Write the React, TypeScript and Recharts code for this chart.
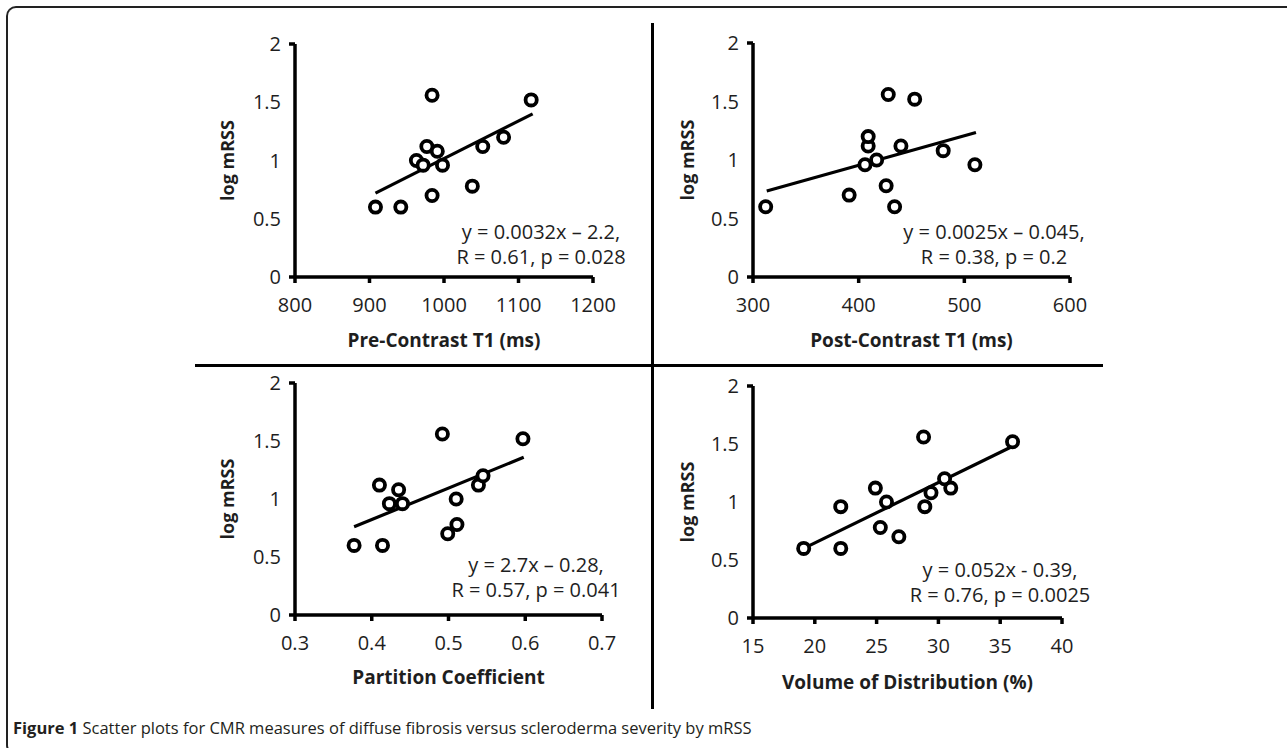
import { ScatterChart, Scatter, XAxis, YAxis, ReferenceLine, Label } from "recharts";

const FONT = "'Open Sans', sans-serif";
const INK = "#1e1e1e";

const Y_TICKS = [0, 0.5, 1, 1.5, 2];

// Pre-contrast T1 (ms) vs log mRSS
const PRE_T1_X = [908, 942, 984, 1117, 977, 991, 963, 972, 998, 1052, 1080, 1038, 984];
const PRE_T1_Y = [0.6, 0.6, 1.56, 1.52, 1.12, 1.08, 1.0, 0.96, 0.96, 1.12, 1.2, 0.78, 0.7];
const PRE_T1_TREND = [
  { x: 908, y: 0.72 },
  { x: 1119, y: 1.4 },
];
const PRE_T1_TICKS = [800, 900, 1000, 1100, 1200];

// Post-contrast T1 (ms)
const POST_T1_X = [312, 391, 434, 426, 406, 417, 409, 409, 428, 453, 440, 480, 510];
const POST_T1_Y = [0.6, 0.7, 0.6, 0.78, 0.96, 1.0, 1.12, 1.2, 1.56, 1.52, 1.12, 1.08, 0.96];
const POST_T1_TREND = [
  { x: 313, y: 0.735 },
  { x: 511, y: 1.235 },
];
const POST_T1_TICKS = [300, 400, 500, 600];

// Partition coefficient
const PC_X = [0.377, 0.414, 0.492, 0.597, 0.41, 0.435, 0.423, 0.44, 0.51, 0.499, 0.511, 0.539, 0.545];
const PC_Y = [0.6, 0.6, 1.56, 1.52, 1.12, 1.08, 0.96, 0.96, 1.0, 0.7, 0.78, 1.12, 1.2];
const PC_TREND = [
  { x: 0.377, y: 0.76 },
  { x: 0.598, y: 1.36 },
];
const PC_TICKS = [0.3, 0.4, 0.5, 0.6, 0.7];

// Volume of distribution (%)
const VD_X = [19.1, 22.1, 22.1, 24.9, 25.8, 25.3, 26.8, 28.8, 28.9, 29.4, 30.5, 31.0, 36.0];
const VD_Y = [0.6, 0.6, 0.96, 1.12, 1.0, 0.78, 0.7, 1.56, 0.96, 1.08, 1.2, 1.12, 1.52];
const VD_TREND = [
  { x: 19.1, y: 0.6 },
  { x: 35.8, y: 1.47 },
];
const VD_TICKS = [15, 20, 25, 30, 35, 40];

const toPoints = (xs: number[], ys: number[]) => xs.map((x, i) => ({ x, y: ys[i] }));

const TICK_SIZE = 6;
const Y_TICK_MARGIN = 8;
const TICK_FONT = 20;

function Ring(props: any) {
  const { cx, cy } = props;
  return <circle cx={cx} cy={cy} r={5.6} fill="#fff" stroke="#000" strokeWidth={3.8} />;
}

// y tick labels; Excel only shows the stub at the two ends
function YTick(props: any) {
  const { x, y, payload } = props;
  const v = payload.value;
  const axisX = x + Y_TICK_MARGIN + TICK_SIZE;
  return (
    <g>
      <text x={x} y={y} dy="0.35em" textAnchor="end" fontSize={TICK_FONT} fill={INK} fontFamily={FONT}>
        {v}
      </text>
      {(v === 0 || v === 2) && (
        <line x1={axisX - TICK_SIZE} x2={axisX} y1={y} y2={y} stroke="#000" strokeWidth={3.5} />
      )}
    </g>
  );
}

type PanelProps = {
  left: number;
  top: number;
  width: number;
  height: number;
  margin: { top: number; right: number; left: number; bottom: number };
  yAxisWidth: number;
  xAxisHeight: number;
  xDomain: [number, number];
  xTicks: number[];
  xLabel: string;
  points: { x: number; y: number }[];
  trend: { x: number; y: number }[];
};

function Panel(p: PanelProps) {
  return (
    <div style={{ position: "absolute", left: p.left, top: p.top }}>
      <ScatterChart width={p.width} height={p.height} margin={p.margin}>
        <XAxis
          type="number"
          dataKey="x"
          domain={p.xDomain}
          ticks={p.xTicks}
          interval={0}
          allowDataOverflow
          height={p.xAxisHeight}
          axisLine={{ stroke: "#000", strokeWidth: 3.5 }}
          tickLine={{ stroke: "#000", strokeWidth: 3.5 }}
          tickSize={TICK_SIZE}
          tickMargin={15}
          tick={{ fontSize: TICK_FONT, fill: INK, fontFamily: FONT }}
        >
          <Label
            value={p.xLabel}
            position="insideBottom"
            offset={10}
            style={{ fontSize: 19, fontWeight: 700, fill: INK, fontFamily: FONT }}
          />
        </XAxis>
        <YAxis
          type="number"
          dataKey="y"
          domain={[0, 2]}
          ticks={Y_TICKS}
          interval={0}
          width={p.yAxisWidth}
          axisLine={{ stroke: "#000", strokeWidth: 3.5 }}
          tickLine={{ stroke: "transparent" }}
          tickSize={TICK_SIZE}
          tickMargin={Y_TICK_MARGIN}
          tick={<YTick />}
        >
          <Label
            value="log mRSS"
            angle={-90}
            position="insideLeft"
            offset={48}
            style={{ textAnchor: "middle", fontSize: 18, fontWeight: 700, fill: INK, fontFamily: FONT }}
          />
        </YAxis>
        <ReferenceLine
          segment={[p.trend[0], p.trend[1]]}
          stroke="#000"
          strokeWidth={3.2}
          ifOverflow="visible"
        />
        <Scatter data={p.points} shape={<Ring />} isAnimationActive={false} />
      </ScatterChart>
    </div>
  );
}

function Note({ cx, cy, lines }: { cx: number; cy: number; lines: string[] }) {
  return (
    <div
      style={{
        position: "absolute",
        left: cx - 200,
        width: 400,
        top: cy - 25,
        textAlign: "center",
        fontSize: 20,
        lineHeight: "25px",
        fontFamily: FONT,
        color: INK,
        whiteSpace: "nowrap",
      }}
    >
      {lines.map((l) => (
        <div key={l}>{l}</div>
      ))}
    </div>
  );
}

export default function App() {
  return (
    <div
      style={{
        position: "absolute",
        left: 0,
        top: 0,
        width: 1287,
        height: 748,
        overflow: "hidden",
        background: "#fff",
      }}
    >
      {/* figure frame */}
      <div
        style={{
          position: "absolute",
          left: 6,
          top: 6,
          width: 1300,
          height: 745,
          borderTop: "2px solid #222",
          borderLeft: "2px solid #222",
          borderBottom: "2px solid #222",
          borderRadius: "10px 0 0 10px",
        }}
      />
      {/* quadrant dividers */}
      <div style={{ position: "absolute", left: 651, top: 23, width: 3, height: 686, background: "#000" }} />
      <div style={{ position: "absolute", left: 195, top: 364, width: 908, height: 3, background: "#000" }} />

      <Panel
        left={180}
        top={20}
        width={460}
        height={337}
        margin={{ top: 24, right: 47, left: 0, bottom: 0 }}
        yAxisWidth={115}
        xAxisHeight={80}
        xDomain={[800, 1200]}
        xTicks={PRE_T1_TICKS}
        xLabel="Pre-Contrast T1 (ms)"
        points={toPoints(PRE_T1_X, PRE_T1_Y)}
        trend={PRE_T1_TREND}
      />
      <Panel
        left={640}
        top={20}
        width={460}
        height={337}
        margin={{ top: 23, right: 30, left: 0, bottom: 0 }}
        yAxisWidth={113}
        xAxisHeight={80}
        xDomain={[300, 600]}
        xTicks={POST_T1_TICKS}
        xLabel="Post-Contrast T1 (ms)"
        points={toPoints(POST_T1_X, POST_T1_Y)}
        trend={POST_T1_TREND}
      />
      <Panel
        left={180}
        top={360}
        width={460}
        height={334}
        margin={{ top: 23, right: 38, left: 0, bottom: 0 }}
        yAxisWidth={115}
        xAxisHeight={79}
        xDomain={[0.3, 0.7]}
        xTicks={PC_TICKS}
        xLabel="Partition Coefficient"
        points={toPoints(PC_X, PC_Y)}
        trend={PC_TREND}
      />
      <Panel
        left={640}
        top={360}
        width={460}
        height={339}
        margin={{ top: 26, right: 38, left: 0, bottom: 0 }}
        yAxisWidth={113}
        xAxisHeight={81}
        xDomain={[15, 40]}
        xTicks={VD_TICKS}
        xLabel="Volume of Distribution (%)"
        points={toPoints(VD_X, VD_Y)}
        trend={VD_TREND}
      />

      <Note cx={541} cy={244} lines={["y = 0.0032x \u2013 2.2,", "R = 0.61, p = 0.028"]} />
      <Note cx={994} cy={244} lines={["y = 0.0025x \u2013 0.045,", "R = 0.38, p = 0.2"]} />
      <Note cx={536} cy={577} lines={["y = 2.7x \u2013 0.28,", "R = 0.57, p = 0.041"]} />
      <Note cx={1000} cy={582} lines={["y = 0.052x - 0.39,", "R = 0.76, p = 0.0025"]} />

      <div
        style={{
          position: "absolute",
          left: 13,
          top: 718,
          fontSize: 16.5,
          lineHeight: "20px",
          fontFamily: FONT,
          color: "#231f20",
          whiteSpace: "nowrap",
        }}
      >
        <b>Figure 1</b> Scatter plots for CMR measures of diffuse fibrosis versus scleroderma severity by mRSS
      </div>
    </div>
  );
}
